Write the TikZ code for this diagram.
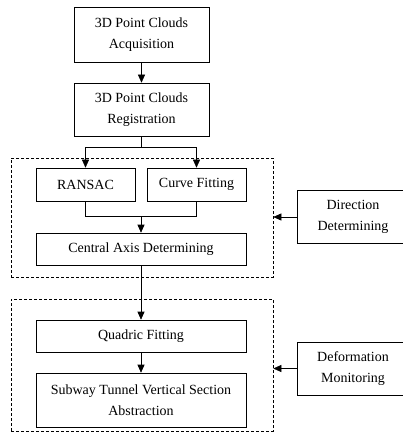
\documentclass[tikz,border=0pt]{standalone}
\usepackage{fontspec}
\setmainfont{Liberation Serif}
\usetikzlibrary{arrows.meta,positioning,calc}

\begin{document}
\begin{tikzpicture}[x=1pt,y=1pt,->,>={Triangle[length=8pt,width=7pt]},semithick,
 box/.style={draw, align=center, inner sep=2pt, font=\fontsize{14}{21}\selectfont},
 group/.style={-, draw, dash pattern=on 3pt off 2pt, inner sep=0pt}]
\useasboundingbox (0,0) rectangle (403,-438);
\node[box, minimum width=135pt, minimum height=55pt] (acq) at (141.5,-34.5) {3D Point Clouds\\Acquisition};
\node[box, minimum width=135pt, minimum height=53pt] (reg) at (141.5,-109.5) {3D Point Clouds\\Registration};
\node[group, minimum width=262pt, minimum height=119pt] (grp1) at (142,-217.5) {};
\node[box, minimum width=99pt, minimum height=33pt] (ransac) at (85.5,-184.5) {RANSAC};
\node[box, minimum width=99pt, minimum height=33pt] (curve) at (196.5,-184.5) {Curve Fitting};
\node[box, minimum width=210pt, minimum height=32pt] (axis) at (141,-249) {Central Axis Determining};
\node[group, minimum width=262pt, minimum height=132pt] (grp2) at (142,-365) {};
\node[box, minimum width=210pt, minimum height=32pt] (quad) at (141,-336) {Quadric Fitting};
\node[box, minimum width=210pt, minimum height=54pt] (subway) at (141,-400) {Subway Tunnel Vertical Section\\Abstraction};
\node[box, minimum width=112pt, minimum height=53pt] (dir) at (353,-217) {Direction\\Determining};
\node[box, minimum width=112pt, minimum height=53pt] (defo) at (353,-368.5) {Deformation\\Monitoring};
% registration splits into the two fits
\draw[-] (reg.south) -- ++(0,-11) coordinate (fork);
\draw (fork) -| (ransac.north);
\draw (fork) -| (curve.north);
\coordinate (join) at ($(axis.north)+(0,16)$);
\draw[-] (ransac.south) |- (join);
\draw[-] (curve.south) |- (join);
\path (acq) edge (reg);
\path (join) edge (axis.north);
\path (axis) edge (quad);
\path (quad) edge (subway);
% side inputs
\draw (dir.west) -- (dir.west -| grp1.east);
\draw (defo.west) -- (defo.west -| grp2.east);
\end{tikzpicture}
\end{document}
